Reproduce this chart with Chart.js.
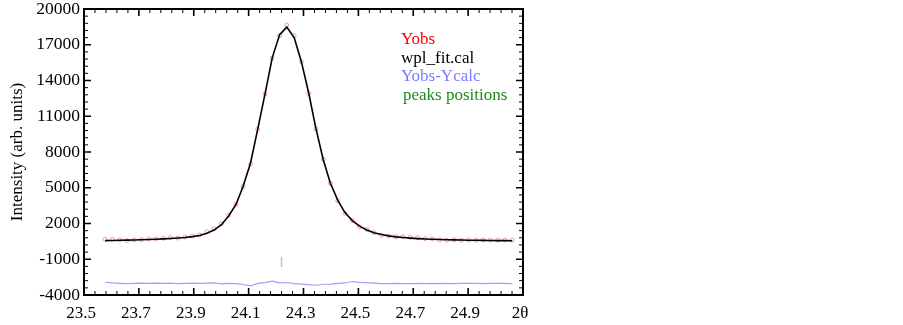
<!DOCTYPE html>
<html>
<head>
<meta charset="utf-8">
<script src="https://cdn.jsdelivr.net/npm/chart.js@4.4.1/dist/chart.umd.min.js"></script>
<style>
    body { margin: 0; background: #fff; }
    #wrap { width: 903px; height: 325px; position: relative; }
</style>
</head>
<body>
<div id="wrap"><canvas id="xrdChart"></canvas></div>
<script>
'use strict'

// 2theta grid of the measured points
const twoTheta = [
    23.577, 23.603, 23.630, 23.656, 23.683, 23.709, 23.736, 23.762, 23.789, 23.815,
    23.842, 23.868, 23.895, 23.921, 23.948, 23.974, 24.001, 24.027, 24.054, 24.080,
    24.107, 24.133, 24.160, 24.186, 24.213, 24.239, 24.266, 24.292, 24.319, 24.345,
    24.372, 24.398, 24.425, 24.451, 24.478, 24.504, 24.531, 24.557, 24.584, 24.610,
    24.637, 24.663, 24.690, 24.716, 24.743, 24.769, 24.796, 24.822, 24.849, 24.875,
    24.902, 24.928, 24.955, 24.981, 25.008, 25.034, 25.061
];
const yObs = [
    680, 680, 620, 560, 620, 650, 700, 700, 760, 810,
    780, 860, 950, 1040, 1300, 1560, 1980, 2690, 3600, 5090,
    6970, 9900, 12870, 15860, 17760, 18650, 17760, 15580, 12930, 9930,
    7390, 5380, 3900, 2860, 2250, 1730, 1500, 1240, 1010, 955,
    900, 890, 850, 810, 730, 700, 620, 600, 620, 600,
    620, 600, 620, 600, 600, 610, 600
];
const yCalc = [
    560, 575, 590, 605, 620, 640, 660, 680, 710, 740,
    780, 830, 900, 1000, 1180, 1450, 1900, 2630, 3600, 5120,
    7080, 9900, 12900, 15900, 17850, 18480, 17600, 15600, 12950, 10000,
    7350, 5380, 3940, 2920, 2240, 1780, 1460, 1230, 1070, 960,
    880, 820, 770, 730, 700, 680, 660, 640, 625, 610,
    600, 590, 580, 570, 565, 560, 555
];
// difference curve, drawn shifted down
const yDiff = [
    -2930, -2980, -3020, -3050, -3030, -3010, -3020, -3000, -3030, -3010,
    -3040, -3020, -3000, -3030, -3000, -2980, -3060, -3020, -3050, -3120,
    -3240, -3020, -2960, -2830, -2980, -2950, -3040, -3080, -3130, -3180,
    -3100, -3080, -3020, -2990, -2870, -2940, -2960, -3000, -3040, -3050,
    -3030, -3040, -3050, -3030, -3040, -3020, -3040, -3030, -3040, -3030,
    -3020, -3030, -3040, -3020, -3030, -3020, -3040
];
const peakPos = [24.22, 24.22];
const peakMark = [-800, -1650];

const xTicks = [23.5, 23.7, 23.9, 24.1, 24.3, 24.5, 24.7, 24.9, 25.1];
const xTickLabels = ['23.5', '23.7', '23.9', '24.1', '24.3', '24.5', '24.7', '24.9', '2θ'];
const yTicks = [-4000, -1000, 2000, 5000, 8000, 11000, 14000, 17000, 20000];

const legendLabels = ['Yobs', 'wpl_fit.cal', 'Yobs-Ycalc', 'peaks positions'];
const legendColors = ['#ff0000', '#000000', '#7b7bff', '#1f8a1f'];

const serif = '"Liberation Serif", "Times New Roman", serif';

const toPoints = (xs, ys) => xs.map((x, i) => ({ x: x, y: ys[i] }));

// frame with inward major/minor ticks on all four sides
const frameTicksPlugin = {
    id: 'frameTicks',
    afterDraw(chart) {
        const { ctx, chartArea: a, scales } = chart;
        const drawTicks = (scale, values, horizontal) => {
            for (let i = 0; i < values.length; i++) {
                const v = values[i];
                const p = scale.getPixelForValue(v);
                ctx.lineWidth = 1.6;
                if (horizontal) {
                    ctx.beginPath();
                    ctx.moveTo(p, a.bottom); ctx.lineTo(p, a.bottom - 7);
                    ctx.moveTo(p, a.top); ctx.lineTo(p, a.top + 7);
                    ctx.stroke();
                } else {
                    ctx.beginPath();
                    ctx.moveTo(a.left, p); ctx.lineTo(a.left + 7, p);
                    ctx.moveTo(a.right, p); ctx.lineTo(a.right - 7, p);
                    ctx.stroke();
                }
                if (i === values.length - 1) break;
                const step = (values[i + 1] - v) / 5;
                ctx.lineWidth = 1;
                for (let k = 1; k < 5; k++) {
                    const q = scale.getPixelForValue(v + step * k);
                    ctx.beginPath();
                    if (horizontal) {
                        ctx.moveTo(q, a.bottom); ctx.lineTo(q, a.bottom - 4);
                        ctx.moveTo(q, a.top); ctx.lineTo(q, a.top + 4);
                    } else {
                        ctx.moveTo(a.left, q); ctx.lineTo(a.left + 4, q);
                        ctx.moveTo(a.right, q); ctx.lineTo(a.right - 4, q);
                    }
                    ctx.stroke();
                }
            }
        };
        ctx.save();
        ctx.strokeStyle = '#000';
        drawTicks(scales.x, xTicks, true);
        drawTicks(scales.y, yTicks, false);
        ctx.lineWidth = 2;
        ctx.strokeRect(a.left, a.top, a.right - a.left, a.bottom - a.top);
        ctx.restore();
    }
};

// text legend inside the plot
const textLegendPlugin = {
    id: 'textLegend',
    afterDraw(chart) {
        const { ctx, chartArea: a } = chart;
        ctx.save();
        ctx.font = '17px ' + serif;
        ctx.textBaseline = 'middle';
        ctx.textAlign = 'left';
        legendLabels.forEach((label, i) => {
            ctx.fillStyle = legendColors[i];
            const dx = i === 3 ? 2 : 0;
            ctx.fillText(label, a.left + 317 + dx, a.top + 31 + i * 18.5);
        });
        ctx.restore();
    }
};

let xrdChart = document.querySelector('#xrdChart');
if (xrdChart) {
    new Chart(xrdChart, {
        type: 'scatter',
        data: {
            datasets: [
                {
                    label: 'wpl_fit.cal',
                    data: toPoints(twoTheta, yCalc),
                    showLine: true,
                    borderColor: '#000000',
                    borderWidth: 1.6,
                    pointRadius: 0,
                    order: 1
                },
                {
                    label: 'Yobs',
                    data: toPoints(twoTheta, yObs),
                    showLine: false,
                    pointStyle: 'circle',
                    pointRadius: 2,
                    pointBorderWidth: 1,
                    pointBorderColor: 'rgba(240, 120, 120, 0.7)',
                    pointBackgroundColor: 'rgba(255, 255, 255, 0)',
                    order: 2
                },
                {
                    label: 'Yobs-Ycalc',
                    data: toPoints(twoTheta, yDiff),
                    showLine: true,
                    borderColor: '#a0a0ff',
                    borderWidth: 1.2,
                    pointRadius: 0,
                    order: 3
                },
                {
                    label: 'peaks positions',
                    data: toPoints(peakPos, peakMark),
                    showLine: true,
                    borderColor: '#a8d4a8',
                    borderWidth: 1.5,
                    pointRadius: 0,
                    order: 4
                }
            ]
        },
        options: {
            responsive: true,
            maintainAspectRatio: false,
            animation: false,
            layout: {
                padding: { top: 9, right: 380, bottom: 0, left: 0 }
            },
            scales: {
                x: {
                    type: 'linear',
                    min: 23.5,
                    max: 25.1,
                    afterBuildTicks: scale => {
                        scale.ticks = xTicks.map(v => ({ value: v }));
                    },
                    afterFit: scale => { scale.height = 30; },
                    grid: { display: false, drawTicks: false },
                    border: { display: false },
                    ticks: {
                        padding: 8,
                        labelOffset: -3,
                        maxRotation: 0,
                        autoSkip: false,
                        color: '#000',
                        font: { family: serif, size: 17 },
                        callback: (value, index) => xTickLabels[index]
                    }
                },
                y: {
                    type: 'linear',
                    min: -4000,
                    max: 20000,
                    afterBuildTicks: scale => {
                        scale.ticks = yTicks.map(v => ({ value: v }));
                    },
                    afterFit: scale => {
                        scale.width = 84;
                        scale.paddingTop = 0;
                        scale.paddingBottom = 0;
                    },
                    grid: { display: false, drawTicks: false },
                    border: { display: false },
                    ticks: {
                        padding: 4,
                        autoSkip: false,
                        color: '#000',
                        font: { family: serif, size: 17.5 },
                        callback: value => String(value)
                    },
                    title: {
                        display: true,
                        text: 'Intensity (arb. units)',
                        color: '#000',
                        font: { family: serif, size: 17 },
                        padding: { top: 7, bottom: 0 }
                    }
                }
            },
            plugins: {
                legend: { display: false },
                tooltip: { enabled: false }
            }
        },
        plugins: [frameTicksPlugin, textLegendPlugin]
    });
}
</script>
</body>
</html>
